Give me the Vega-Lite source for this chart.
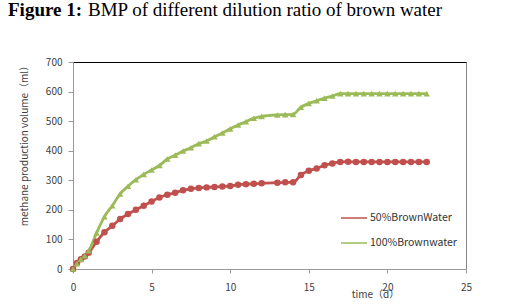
{
  "$schema": "https://vega.github.io/schema/vega-lite/v6.json",
  "autosize": "none",
  "padding": {"left": 73, "top": 62, "right": 51, "bottom": 39},
  "width": 393,
  "height": 207,
  "background": "white",
  "config": {
    "view": {"stroke": "#868686", "strokeWidth": 1},
    "axis": {"grid": false, "labelFont": "Noto Sans CJK SC", "labelFontSize": 10, "labelColor": "#404040", "labelOverlap": false, "titleFont": "Noto Sans CJK SC", "titleFontSize": 10, "titleFontWeight": "normal", "titleColor": "#404040", "domainColor": "#9a9a9a", "tickColor": "#9a9a9a"}
  },
  "title": {
    "text": "BMP of different dilution ratio of brown water",
    "subtitle": "Figure 1:",
    "anchor": "start",
    "frame": "group",
    "font": "Liberation Serif",
    "fontSize": 19,
    "fontWeight": "normal",
    "color": "black",
    "subtitleFont": "Liberation Serif",
    "subtitleFontSize": 19,
    "subtitleFontWeight": "bold",
    "subtitleColor": "black",
    "subtitlePadding": -19,
    "dx": -65,
    "offset": 37,
    "encoding": {"dx": {"value": 15}}
  },
  "data": {"values": [
    {"t": 0, "v": 0, "s": "50%BrownWater"},
    {"t": 0.25, "v": 20, "s": "50%BrownWater"},
    {"t": 0.5, "v": 33, "s": "50%BrownWater"},
    {"t": 0.75, "v": 42, "s": "50%BrownWater"},
    {"t": 1, "v": 55, "s": "50%BrownWater"},
    {"t": 1.5, "v": 92, "s": "50%BrownWater"},
    {"t": 2, "v": 124, "s": "50%BrownWater"},
    {"t": 2.5, "v": 146, "s": "50%BrownWater"},
    {"t": 3, "v": 169, "s": "50%BrownWater"},
    {"t": 3.5, "v": 186, "s": "50%BrownWater"},
    {"t": 4, "v": 200, "s": "50%BrownWater"},
    {"t": 4.5, "v": 214, "s": "50%BrownWater"},
    {"t": 5, "v": 228, "s": "50%BrownWater"},
    {"t": 5.5, "v": 242, "s": "50%BrownWater"},
    {"t": 6, "v": 251, "s": "50%BrownWater"},
    {"t": 6.5, "v": 258, "s": "50%BrownWater"},
    {"t": 7, "v": 266, "s": "50%BrownWater"},
    {"t": 7.5, "v": 271, "s": "50%BrownWater"},
    {"t": 8, "v": 274, "s": "50%BrownWater"},
    {"t": 8.5, "v": 276, "s": "50%BrownWater"},
    {"t": 9, "v": 277, "s": "50%BrownWater"},
    {"t": 9.5, "v": 279, "s": "50%BrownWater"},
    {"t": 10, "v": 281, "s": "50%BrownWater"},
    {"t": 10.5, "v": 285, "s": "50%BrownWater"},
    {"t": 11, "v": 287, "s": "50%BrownWater"},
    {"t": 11.5, "v": 288, "s": "50%BrownWater"},
    {"t": 12, "v": 290, "s": "50%BrownWater"},
    {"t": 13, "v": 292, "s": "50%BrownWater"},
    {"t": 13.5, "v": 293, "s": "50%BrownWater"},
    {"t": 14, "v": 293, "s": "50%BrownWater"},
    {"t": 14.5, "v": 318, "s": "50%BrownWater"},
    {"t": 15, "v": 332, "s": "50%BrownWater"},
    {"t": 15.5, "v": 340, "s": "50%BrownWater"},
    {"t": 16, "v": 351, "s": "50%BrownWater"},
    {"t": 16.5, "v": 357, "s": "50%BrownWater"},
    {"t": 17, "v": 362, "s": "50%BrownWater"},
    {"t": 17.5, "v": 363, "s": "50%BrownWater"},
    {"t": 18, "v": 362, "s": "50%BrownWater"},
    {"t": 18.5, "v": 362, "s": "50%BrownWater"},
    {"t": 19, "v": 362, "s": "50%BrownWater"},
    {"t": 19.5, "v": 362, "s": "50%BrownWater"},
    {"t": 20, "v": 362, "s": "50%BrownWater"},
    {"t": 20.5, "v": 362, "s": "50%BrownWater"},
    {"t": 21, "v": 362, "s": "50%BrownWater"},
    {"t": 21.5, "v": 362, "s": "50%BrownWater"},
    {"t": 22, "v": 362, "s": "50%BrownWater"},
    {"t": 22.5, "v": 362, "s": "50%BrownWater"},
    {"t": 0, "v": 0, "s": "100%Brownwater"},
    {"t": 0.25, "v": 18, "s": "100%Brownwater"},
    {"t": 0.5, "v": 33, "s": "100%Brownwater"},
    {"t": 0.75, "v": 45, "s": "100%Brownwater"},
    {"t": 1, "v": 62, "s": "100%Brownwater"},
    {"t": 1.5, "v": 122, "s": "100%Brownwater"},
    {"t": 2, "v": 177, "s": "100%Brownwater"},
    {"t": 2.5, "v": 214, "s": "100%Brownwater"},
    {"t": 3, "v": 254, "s": "100%Brownwater"},
    {"t": 3.5, "v": 280, "s": "100%Brownwater"},
    {"t": 4, "v": 302, "s": "100%Brownwater"},
    {"t": 4.5, "v": 320, "s": "100%Brownwater"},
    {"t": 5, "v": 335, "s": "100%Brownwater"},
    {"t": 5.5, "v": 350, "s": "100%Brownwater"},
    {"t": 6, "v": 372, "s": "100%Brownwater"},
    {"t": 6.5, "v": 385, "s": "100%Brownwater"},
    {"t": 7, "v": 399, "s": "100%Brownwater"},
    {"t": 7.5, "v": 410, "s": "100%Brownwater"},
    {"t": 8, "v": 424, "s": "100%Brownwater"},
    {"t": 8.5, "v": 433, "s": "100%Brownwater"},
    {"t": 9, "v": 447, "s": "100%Brownwater"},
    {"t": 9.5, "v": 460, "s": "100%Brownwater"},
    {"t": 10, "v": 474, "s": "100%Brownwater"},
    {"t": 10.5, "v": 487, "s": "100%Brownwater"},
    {"t": 11, "v": 498, "s": "100%Brownwater"},
    {"t": 11.5, "v": 510, "s": "100%Brownwater"},
    {"t": 12, "v": 516, "s": "100%Brownwater"},
    {"t": 13, "v": 521, "s": "100%Brownwater"},
    {"t": 13.5, "v": 522, "s": "100%Brownwater"},
    {"t": 14, "v": 523, "s": "100%Brownwater"},
    {"t": 14.5, "v": 547, "s": "100%Brownwater"},
    {"t": 15, "v": 560, "s": "100%Brownwater"},
    {"t": 15.5, "v": 569, "s": "100%Brownwater"},
    {"t": 16, "v": 578, "s": "100%Brownwater"},
    {"t": 16.5, "v": 585, "s": "100%Brownwater"},
    {"t": 17, "v": 593, "s": "100%Brownwater"},
    {"t": 17.5, "v": 593, "s": "100%Brownwater"},
    {"t": 18, "v": 593, "s": "100%Brownwater"},
    {"t": 18.5, "v": 593, "s": "100%Brownwater"},
    {"t": 19, "v": 593, "s": "100%Brownwater"},
    {"t": 19.5, "v": 593, "s": "100%Brownwater"},
    {"t": 20, "v": 593, "s": "100%Brownwater"},
    {"t": 20.5, "v": 593, "s": "100%Brownwater"},
    {"t": 21, "v": 593, "s": "100%Brownwater"},
    {"t": 21.5, "v": 593, "s": "100%Brownwater"},
    {"t": 22, "v": 593, "s": "100%Brownwater"},
    {"t": 22.5, "v": 593, "s": "100%Brownwater"}
  ]},
  "resolve": {"axis": {"x": "independent"}},
  "layer": [
    {
      "mark": {"type": "line", "strokeWidth": 2.8, "interpolate": "monotone"},
      "encoding": {
        "x": {"field": "t", "type": "quantitative", "scale": {"domain": [0, 25], "nice": false},
              "axis": {"values": [0, 5, 10, 15, 20, 25], "title": "time（d）", "titleX": 302, "titleY": 20, "titleBaseline": "top", "tickSize": 4, "labelPadding": 9, "labelFlush": false, "labelOverlap": false}},
        "y": {"field": "v", "type": "quantitative", "scale": {"domain": [0, 700], "nice": false},
              "axis": {"values": [0, 100, 200, 300, 400, 500, 600, 700], "title": "methane production volume（ml）", "titleX": -44, "titleY": 81, "tickSize": 5, "labelPadding": 6, "labelOverlap": false}},
        "color": {"field": "s", "type": "nominal", "scale": {"domain": ["50%BrownWater", "100%Brownwater"], "range": ["#C0504D", "#9BBB59"]}}
      }
    },
    {
      "mark": {"type": "point", "filled": true, "size": 42, "opacity": 1,
               "shape": {"expr": "datum.s === '50%BrownWater' ? 'circle' : 'triangle-up'"}},
      "encoding": {
        "x": {"field": "t", "type": "quantitative", "scale": {"domain": [0, 25], "nice": false},
              "axis": {"orient": "top", "labels": false, "ticks": false, "title": null, "domainColor": "black", "domainWidth": 1.2}},
        "y": {"field": "v", "type": "quantitative", "scale": {"domain": [0, 700], "nice": false},
              "axis": {"values": [0, 100, 200, 300, 400, 500, 600, 700], "title": "methane production volume（ml）", "titleX": -44, "titleY": 81, "tickSize": 5, "labelPadding": 6, "labelOverlap": false}},
        "color": {"field": "s", "type": "nominal", "scale": {"domain": ["50%BrownWater", "100%Brownwater"], "range": ["#C0504D", "#9BBB59"]},
          "legend": {
            "title": null, "orient": "none", "legendX": 267, "legendY": 142,
            "labelFont": "Noto Sans CJK SC", "labelFontSize": 10.5, "labelColor": "#333333", "labelOffset": 2,
            "rowPadding": 5, "symbolSize": 676,
            "encode": {"symbols": {
              "strokeWidth": {"value": 2.5},
              "opacity": {"value": 1}
            }}
          }}
      }
    }
  ]
}
